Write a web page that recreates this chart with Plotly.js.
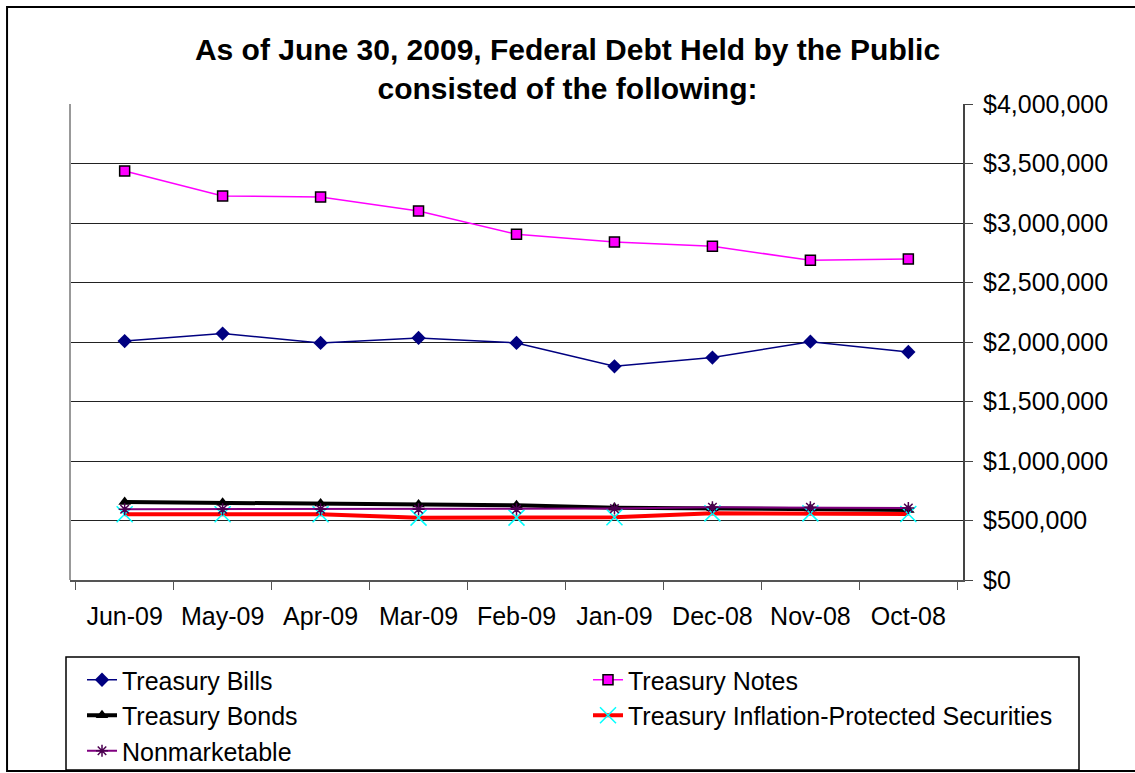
<!DOCTYPE html>
<html>
<head>
<meta charset="utf-8">
<script src="https://cdn.plot.ly/plotly-3.0.1.min.js"></script>
<style>html,body{margin:0;padding:0;background:#fff;}#chart{width:1135px;height:773px;}</style>
</head>
<body>
<div id="chart"></div>
<script>
const months = ["Jun-09","May-09","Apr-09","Mar-09","Feb-09","Jan-09","Dec-08","Nov-08","Oct-08"];
const treasuryBills = [2008000, 2071000, 1992000, 2034000, 1992000, 1796000, 1869000, 2003000, 1916000];
const treasuryNotes = [3437000, 3227000, 3218000, 3101000, 2905000, 2840000, 2804000, 2687000, 2697000];
const treasuryBonds = [655000, 650000, 642000, 634000, 628000, 608000, 603000, 600000, 588000];
const tips = [552000, 552000, 552000, 524000, 524000, 527000, 560000, 560000, 555000];
const nonmarketable = [594000, 594000, 594000, 594000, 594000, 600000, 611000, 611000, 605000];

const FONT = "Liberation Sans, Arial, sans-serif";

const traces = [
  {x: months, y: treasuryBills, name: "Treasury Bills", type: "scatter", mode: "lines+markers", legend: "legend",
   line: {color: "#000080", width: 1.5}, marker: {symbol: "diamond", size: 11, color: "#000080"}},
  {x: months, y: treasuryNotes, name: "Treasury Notes", type: "scatter", mode: "lines+markers", legend: "legend2",
   line: {color: "#FF00FF", width: 1.5}, marker: {symbol: "square", size: 10, color: "#FF00FF", line: {color: "#000", width: 1.5}}},
  {x: months, y: treasuryBonds, name: "Treasury Bonds", type: "scatter", mode: "lines+markers", legend: "legend",
   line: {color: "#000000", width: 4}, marker: {symbol: "triangle-up", size: 11, color: "#000000"}},
  {x: months, y: tips, name: "Treasury Inflation-Protected Securities", type: "scatter", mode: "lines+markers", legend: "legend2",
   line: {color: "#FF0000", width: 4}, marker: {symbol: "x-thin-open", size: 16, color: "#00FFFF", line: {color: "#00FFFF", width: 1.5}}},
  {x: months, y: nonmarketable, name: "Nonmarketable", type: "scatter", mode: "lines+markers", legend: "legend",
   line: {color: "#800080", width: 2}, marker: {symbol: "asterisk-open", size: 10, color: "#4B0050", line: {color: "#4B0050", width: 1.5}}}
];

const legendCommon = {orientation: "v", yanchor: "top", xanchor: "left", borderwidth: 0, bgcolor: "rgba(0,0,0,0)",
                      font: {size: 25, family: FONT, color: "#000"}, traceorder: "normal"};

const layout = {
  width: 1135, height: 773,
  margin: {l: 70, r: 172, t: 104, b: 193, autoexpand: false},
  paper_bgcolor: "#fff", plot_bgcolor: "#fff",
  font: {family: FONT, size: 25, color: "#000"},
  title: {text: "<b>As of June 30, 2009, Federal Debt Held by the Public<br>consisted of the following:</b>",
          font: {family: FONT, size: 30, color: "#000"},
          x: 0.5, xref: "container", xanchor: "center", y: 0.923, yref: "container", yanchor: "top"},
  showlegend: true,
  legend: Object.assign({}, legendCommon, {x: (82 - 70) / 893, y: (580 - 657) / 476}),
  legend2: Object.assign({}, legendCommon, {x: (588 - 70) / 893, y: (580 - 657) / 476}),
  xaxis: {type: "category", showgrid: false, showline: true, linecolor: "#555", linewidth: 1.5,
          ticks: "outside", tickson: "boundaries", ticklen: 8, tickcolor: "#555", tickwidth: 1.5,
          ticklabelstandoff: 13, tickfont: {size: 25}, zeroline: false},
  yaxis: {side: "right", range: [0, 4000000], dtick: 500000, tickformat: "$,.0f",
          showgrid: true, gridcolor: "#222", gridwidth: 1, zeroline: false,
          showline: true, linecolor: "#444", linewidth: 2,
          ticks: "outside", ticklen: 8, tickcolor: "#444", ticklabelstandoff: 5, tickfont: {size: 25}},
  shapes: [
    {type: "line", xref: "paper", yref: "paper", x0: 0, x1: 0, y0: 0, y1: 1, line: {color: "#999", width: 2}},
    {type: "rect", xref: "paper", yref: "paper", x0: -0.0705, x1: 1.2, y0: -0.4013, y1: 1.2038,
     line: {color: "#000", width: 2}, layer: "below"},
    {type: "rect", xref: "paper", yref: "paper", x0: (66 - 70) / 893, x1: (1079 - 70) / 893,
     y0: (580 - 770) / 476, y1: (580 - 657) / 476, line: {color: "#000", width: 1.5}, layer: "below"}
  ]
};

Plotly.newPlot("chart", traces, layout, {displayModeBar: false, staticPlot: true});
</script>
</body>
</html>
